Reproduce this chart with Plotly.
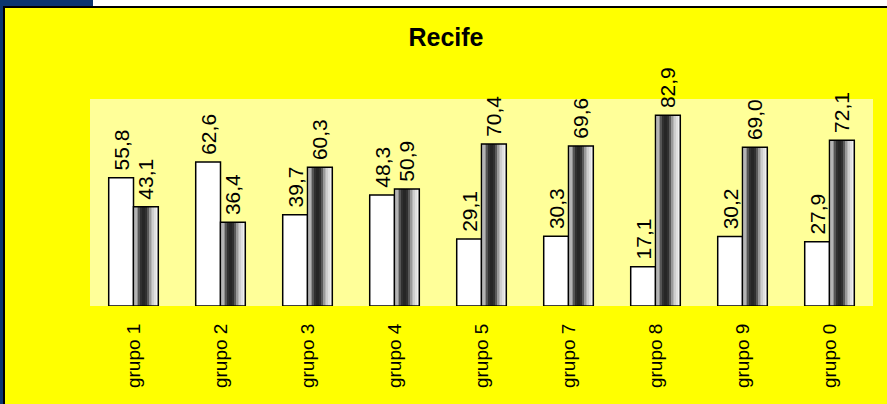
import plotly.graph_objects as go

categories = ["grupo 1", "grupo 2", "grupo 3", "grupo 4", "grupo 5", "grupo 7", "grupo 8", "grupo 9", "grupo 0"]
series_white = [55.8, 62.6, 39.7, 48.3, 29.1, 30.3, 17.1, 30.2, 27.9]
series_gray = [43.1, 36.4, 60.3, 50.9, 70.4, 69.6, 82.9, 69.0, 72.1]
title_text = "Recife"

W, H = 887, 404
L, R, T, B = 90, 873, 99, 306  # plot area pixel bounds

stripe_colors = ["#d6d6d6", "#b4b4b4", "#8e8e8e", "#555555", "#303030", "#262626", "#262626",
                 "#303030", "#5a5a5a", "#9a9a9a", "#b6b6b6", "#cecece", "#e0e0e0", "#f0f0f0"]

FONT = "Arial, Liberation Sans, sans-serif"
bw = 0.285

fig = go.Figure()

# white series
fig.add_trace(go.Bar(
    x=categories, y=series_white, offset=-bw, width=bw,
    marker=dict(color="white", line=dict(color="black", width=1.5)),
    texttemplate="\u2009%{y:.1f}", textposition="outside", textangle=-90,
    textfont=dict(family=FONT, size=21, color="black"),
    cliponaxis=False, constraintext="none", showlegend=False))

# gray cylinder series: stripes for shading
n = len(stripe_colors)
for i, c in enumerate(stripe_colors):
    fig.add_trace(go.Bar(
        x=categories, y=series_gray, offset=i * bw / n, width=bw / n * 1.05,
        marker=dict(color=c, line=dict(width=0)), showlegend=False, hoverinfo="skip"))

# gray outline + labels
fig.add_trace(go.Bar(
    x=categories, y=series_gray, offset=0, width=bw,
    marker=dict(color="rgba(0,0,0,0)", line=dict(color="black", width=1.5)),
    texttemplate="\u2009%{y:.1f}", textposition="outside", textangle=-90,
    textfont=dict(family=FONT, size=21, color="black"),
    cliponaxis=False, constraintext="none", showlegend=False))


def px(xp):
    return (xp - L) / (R - L)


def py(yp):
    return (B - yp) / (B - T)


shapes = [
    dict(type="rect", xref="paper", yref="paper", x0=px(0), x1=px(W), y0=py(0), y1=py(6.5),
         fillcolor="white", line=dict(width=0)),
    dict(type="rect", xref="paper", yref="paper", x0=px(0), x1=px(93), y0=py(0), y1=py(6.5),
         fillcolor="#0c3670", line=dict(width=0)),
    dict(type="rect", xref="paper", yref="paper", x0=px(0), x1=px(3), y0=py(0), y1=py(H),
         fillcolor="#0c3670", line=dict(width=0)),
    dict(type="rect", xref="paper", yref="paper", x0=px(3), x1=px(W), y0=py(6), y1=py(8),
         fillcolor="black", line=dict(width=0)),
    dict(type="rect", xref="paper", yref="paper", x0=px(3), x1=px(5), y0=py(6), y1=py(H),
         fillcolor="black", line=dict(width=0)),
]

fig.update_layout(
    width=W, height=H,
    margin=dict(l=L, r=W - R, t=T, b=H - B, pad=0),
    paper_bgcolor="#ffff00", plot_bgcolor="#ffff99",
    barmode="overlay",
    separators=",.",
    showlegend=False,
    title=dict(text="<b>" + title_text + "</b>", x=446 / W, xref="container", xanchor="center",
               y=1 - 37 / H, yref="container", yanchor="middle",
               font=dict(family=FONT, size=25, color="black")),
    xaxis=dict(type="category", showgrid=False, zeroline=False, showline=False,
               tickangle=-90, ticks="outside", ticklen=9, tickcolor="rgba(0,0,0,0)",
               tickfont=dict(family=FONT, size=19, color="black")),
    yaxis=dict(range=[0, 90], showgrid=False, zeroline=False, showline=False,
               showticklabels=False, ticks=""),
    shapes=shapes,
)

fig.write_html("out.html", config={"displayModeBar": False},
               post_script="document.body.style.margin='0';document.body.style.overflow='hidden';")
